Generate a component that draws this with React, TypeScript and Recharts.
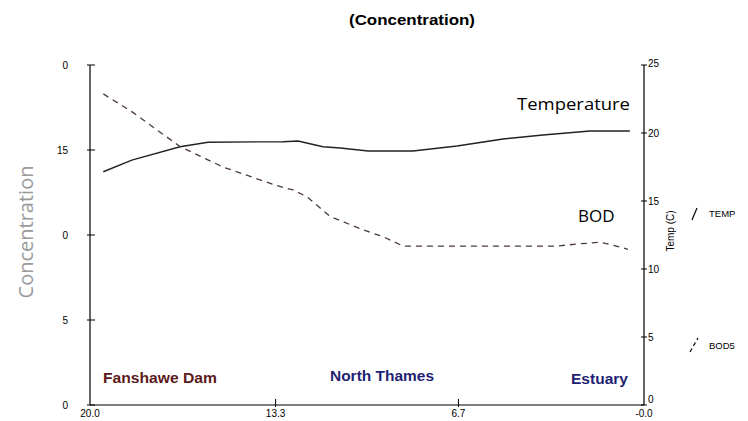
import React from "react";
import { ComposedChart, Line, XAxis, YAxis } from "recharts";

// River distance (km to mouth) for each sampled point
const kmTemp = [19.52, 18.49, 16.75, 15.74, 13.03, 12.49, 11.59, 10.97, 9.96, 8.34, 6.75, 5.09, 3.65, 1.95, 0.51];
const tempC = [17.15, 18.01, 18.99, 19.32, 19.36, 19.41, 18.99, 18.9, 18.68, 18.68, 19.04, 19.56, 19.85, 20.15, 20.15];
const kmBod = [19.52, 18.44, 16.75, 15.2, 13.25, 12.67, 12.17, 11.7, 11.34, 10.14, 9.42, 8.7, 3.14, 2.42, 1.59, 1.12, 0.58];
const bod5 = [18.3, 17.2, 15.2, 14.0, 12.9, 12.65, 12.25, 11.6, 11.1, 10.3, 9.9, 9.35, 9.35, 9.47, 9.57, 9.4, 9.16];

const xTicks = [20, 13.3, 6.7, 0];
const xTickLabels = ["20.0", "13.3", "6.7", "-0.0"];
const leftTicks = [0, 5, 10, 15, 20];
const leftTickLabels = ["0", "5", "0", "15", "0"];
const rightTicks = [0, 5, 10, 15, 20, 25];
const rightTickLabels = ["0", "5", "10", "15", "20", "25"];

const tempData = kmTemp.map((km, i) => ({ km, temp: tempC[i] }));
const bodData = kmBod.map((km, i) => ({ km, bod: bod5[i] }));

const tickFont = "'Liberation Sans', Arial, sans-serif";

const LeftTick = (props: any) => {
  const { x, y, payload } = props;
  const idx = leftTicks.indexOf(payload.value);
  return (
    <g>
      <line x1={x - 3} x2={x + 5} y1={y} y2={y} stroke="#000" strokeWidth={1} />
      <text x={x - 22} y={y + 4} fontSize={10} fontFamily={tickFont} fill="#000" textAnchor="end">
        {leftTickLabels[idx]}
      </text>
    </g>
  );
};

const RightTick = (props: any) => {
  const { x, y, payload } = props;
  const idx = rightTicks.indexOf(payload.value);
  const dy = payload.value === 25 ? -2 : payload.value === 0 ? -6 : 0;
  return (
    <g>
      <line x1={x - 3} x2={x + 3} y1={y} y2={y} stroke="#000" strokeWidth={1} />
      <text x={x + 4} y={y + 4 + dy} fontSize={10} fontFamily={tickFont} fill="#000" textAnchor="start">
        {rightTickLabels[idx]}
      </text>
    </g>
  );
};

const BottomTick = (props: any) => {
  const { x, y, payload } = props;
  const idx = xTicks.indexOf(payload.value);
  return (
    <g>
      {payload.value !== 20 && payload.value !== 0 ? (
        <line x1={x} x2={x} y1={y - 6} y2={y + 2} stroke="#000" strokeWidth={1} />
      ) : null}
      <text x={x} y={y + 12} fontSize={10} fontFamily={tickFont} fill="#000" textAnchor="middle">
        {xTickLabels[idx]}
      </text>
    </g>
  );
};

const narrow = "'Liberation Sans Narrow', 'Arial Narrow', 'Liberation Sans', Arial, sans-serif";

export default function App() {
  return (
    <div style={{ position: "absolute", left: 0, top: 0, width: 748, height: 421, background: "#fff" }}>
      <ComposedChart
        width={748}
        height={421}
        margin={{ top: 65, left: 60, right: 74, bottom: 0 }}
      >
        <XAxis
          type="number"
          dataKey="km"
          domain={[0, 20]}
          reversed
          ticks={xTicks}
          allowDataOverflow
          height={16}
          tickSize={0}
          tickMargin={0}
          tick={<BottomTick />}
          axisLine={{ stroke: "#000", strokeWidth: 1.2 }}
          tickLine={false}
        />
        <YAxis
          yAxisId="left"
          orientation="left"
          domain={[0, 20]}
          ticks={leftTicks}
          width={30}
          tickSize={0}
          tickMargin={0}
          tick={<LeftTick />}
          axisLine={{ stroke: "#000", strokeWidth: 1.2 }}
          tickLine={false}
        />
        <YAxis
          yAxisId="right"
          orientation="right"
          domain={[0, 25]}
          ticks={rightTicks}
          width={30}
          tickSize={0}
          tickMargin={0}
          tick={<RightTick />}
          axisLine={{ stroke: "#000", strokeWidth: 1.2 }}
          tickLine={false}
        />
        <Line
          data={tempData}
          yAxisId="right"
          dataKey="temp"
          type="linear"
          stroke="#222"
          strokeWidth={1.4}
          dot={false}
          isAnimationActive={false}
        />
        <Line
          data={bodData}
          yAxisId="left"
          dataKey="bod"
          type="linear"
          stroke="#4d3b3b"
          strokeWidth={1.3}
          strokeDasharray="6 5"
          dot={false}
          isAnimationActive={false}
        />
      </ComposedChart>
      <svg
        width={748}
        height={421}
        style={{ position: "absolute", left: 0, top: 0, pointerEvents: "none" }}
      >
        <text x={349} y={25} fontFamily={narrow} fontWeight="bold" fontSize={15}
          textLength={126} lengthAdjust="spacingAndGlyphs" fill="#000">
          (Concentration)
        </text>
        <text x={0} y={0} transform="translate(33,232) rotate(-90)" textAnchor="middle"
          fontFamily="'Open Sans', sans-serif" fontSize={20} fill="#9a9a9a">
          Concentration
        </text>
        <text x={517} y={110} fontFamily="'Open Sans', sans-serif" fontSize={17} fill="#000"
          textLength={113} lengthAdjust="spacingAndGlyphs">
          Temperature
        </text>
        <text x={578} y={222} fontFamily="'Open Sans', sans-serif" fontSize={17} fill="#000">
          BOD
        </text>
        <text x={0} y={0} transform="translate(674,231) rotate(-90)" textAnchor="middle"
          fontFamily={tickFont} fontSize={10} fill="#000">
          Temp (C)
        </text>
        <line x1={692} y1={220} x2={697} y2={208} stroke="#000" strokeWidth={1.2} />
        <text x={709} y={217} fontFamily={tickFont} fontSize={9.5} fill="#000">TEMP</text>
        <line x1={690} y1={352} x2={698} y2={338} stroke="#000" strokeWidth={1.2} strokeDasharray="4 3" />
        <text x={709} y={349} fontFamily={tickFont} fontSize={9.5} fill="#000">BOD5</text>
        <text x={103} y={383} fontFamily={narrow} fontWeight="bold" fontSize={15} fill="#5b1a1a"
          textLength={114} lengthAdjust="spacingAndGlyphs">
          Fanshawe Dam
        </text>
        <text x={330} y={381} fontFamily={narrow} fontWeight="bold" fontSize={15} fill="#1f1f73"
          textLength={104} lengthAdjust="spacingAndGlyphs">
          North Thames
        </text>
        <text x={571} y={384} fontFamily={narrow} fontWeight="bold" fontSize={15} fill="#1f1f73"
          textLength={57} lengthAdjust="spacingAndGlyphs">
          Estuary
        </text>
      </svg>
    </div>
  );
}
